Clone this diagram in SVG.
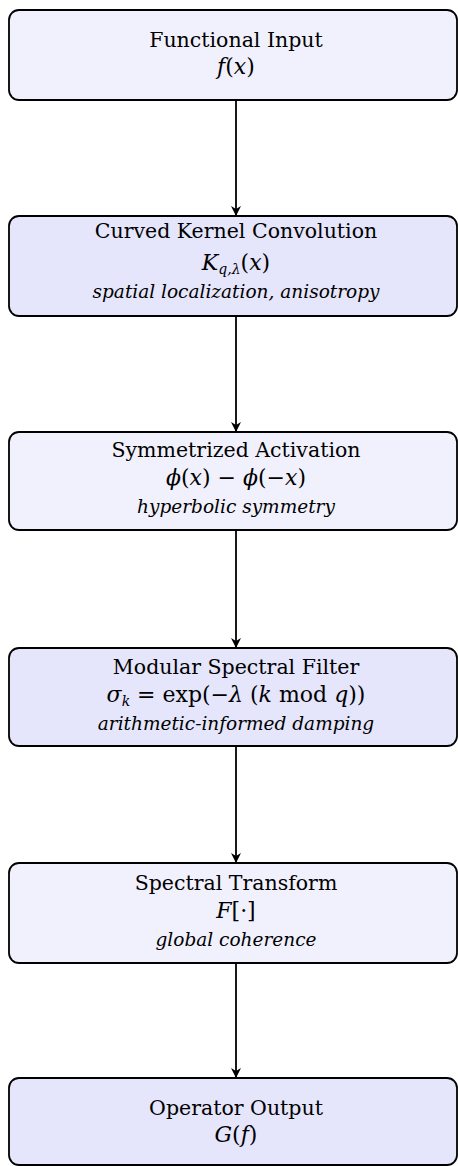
<svg xmlns="http://www.w3.org/2000/svg" width="458" height="1166" viewBox="0 0 458 1166">
<style>
.box{stroke:#000;stroke-width:1.8}
.a{fill:#f1f1fd}
.b{fill:#e5e5fb}
text{font-family:"DejaVu Serif","Liberation Serif",serif;font-size:20.5px;fill:#000;text-anchor:middle}
.m{font-size:22px}
.i{font-style:italic}
.it{font-style:italic;font-size:18.5px}
.sub{font-size:14px;font-style:italic}
.edge{stroke:#000;stroke-width:1.8;fill:none;marker-end:url(#ah)}
</style>
<defs>
<marker id="ah" viewBox="0 0 10 10" refX="10" refY="5" markerWidth="11" markerHeight="10" markerUnits="userSpaceOnUse" orient="auto">
<path d="M0,0 L10,5 L0,10 L3,5 Z" fill="#000"/>
</marker>
</defs>
<rect width="458" height="1166" fill="#fff"/>
<g id="connectors">
<line class="edge" x1="236" y1="100" x2="236" y2="216"/>
<line class="edge" x1="236" y1="316" x2="236" y2="432"/>
<line class="edge" x1="236" y1="530" x2="236" y2="648"/>
<line class="edge" x1="236" y1="746" x2="236" y2="863"/>
<line class="edge" x1="236" y1="963" x2="236" y2="1078"/>
</g>
<g id="node-input">
<rect class="box a" x="9" y="10" width="448" height="90" rx="10"/>
<text x="236" y="47">Functional Input</text>
<text x="236" y="74" class="m"><tspan class="i">f</tspan>(<tspan class="i">x</tspan>)</text>
</g>
<g id="node-kernel">
<rect class="box b" x="9" y="216" width="448" height="100" rx="10"/>
<text x="236" y="238">Curved Kernel Convolution</text>
<text x="236" y="270" class="m"><tspan class="i">K</tspan><tspan class="sub" dy="4">q,λ</tspan><tspan dy="-4">(</tspan><tspan class="i">x</tspan>)</text>
<text x="236" y="298" class="it">spatial localization, anisotropy</text>
</g>
<g id="node-activation">
<rect class="box a" x="9" y="432" width="448" height="98" rx="10"/>
<text x="236" y="457">Symmetrized Activation</text>
<text x="236" y="485" class="m"><tspan class="i">ϕ</tspan>(<tspan class="i">x</tspan>) − <tspan class="i">ϕ</tspan>(−<tspan class="i">x</tspan>)</text>
<text x="236" y="513" class="it">hyperbolic symmetry</text>
</g>
<g id="node-filter">
<rect class="box b" x="9" y="648" width="448" height="98" rx="10"/>
<text x="236" y="674">Modular Spectral Filter</text>
<text x="236" y="702" class="m"><tspan class="i">σ</tspan><tspan class="sub" dy="4">k</tspan><tspan dy="-4"> = exp(−</tspan><tspan class="i">λ</tspan> (<tspan class="i">k</tspan> mod <tspan class="i">q</tspan>))</text>
<text x="236" y="730" class="it">arithmetic-informed damping</text>
</g>
<g id="node-transform">
<rect class="box a" x="9" y="863" width="448" height="100" rx="10"/>
<text x="236" y="890">Spectral Transform</text>
<text x="236" y="918" class="m"><tspan class="i">F</tspan>[·]</text>
<text x="236" y="946" class="it">global coherence</text>
</g>
<g id="node-output">
<rect class="box b" x="9" y="1078" width="448" height="87" rx="10"/>
<text x="236" y="1115">Operator Output</text>
<text x="236" y="1142" class="m"><tspan class="i">G</tspan>(<tspan class="i">f</tspan>)</text>
</g>
</svg>
